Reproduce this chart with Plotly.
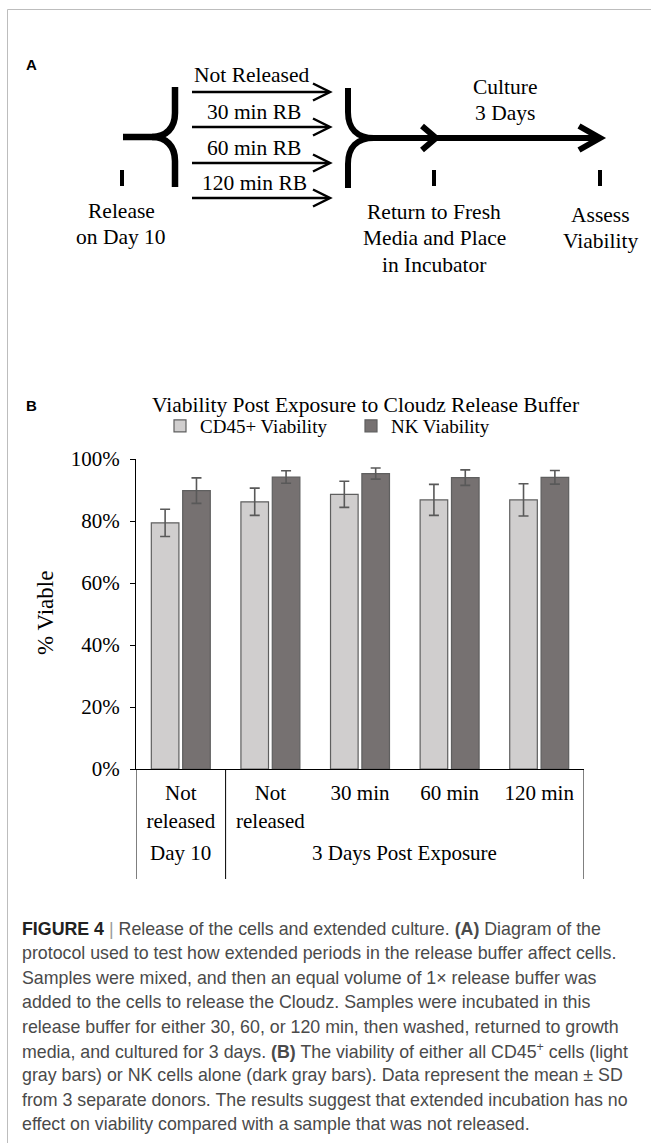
import plotly.graph_objects as go

W, H = 651, 1143

# ---------------- data (panel B) ----------------
outer_groups = ["Day 10", "3 Days Post Exposure", "3 Days Post Exposure",
                "3 Days Post Exposure", "3 Days Post Exposure"]
inner_labels = ["Not<br>released", "Not<br>released", "30 min", "60 min", "120 min"]
cd45_mean = [79.4, 86.2, 88.6, 86.8, 86.8]
cd45_sd = [4.4, 4.4, 4.2, 5.0, 5.2]
nk_mean = [89.8, 94.2, 95.3, 94.0, 94.1]
nk_sd = [4.1, 2.0, 1.8, 2.5, 2.2]
y_tick_vals = [0, 20, 40, 60, 80, 100]
y_tick_text = ["0%", "20%", "40%", "60%", "80%", "100%"]
series_names = ["CD45+ Viability", "NK Viability"]
chart_title = "Viability Post Exposure to Cloudz Release Buffer"
y_title = "% Viable"

# ---------------- text (panel A + caption) ----------------
branch_labels = ["Not Released", "30 min RB", "60 min RB", "120 min RB"]
step_labels = [["Release", "on Day 10"],
               ["Return to Fresh", "Media and Place", "in Incubator"],
               ["Assess", "Viability"]]
culture_label = ["Culture", "3 Days"]
caption_lines = [
    "<span style='color:#222'><b>FIGURE 4</b></span> <span style='color:#9a9a9a'>|</span> Release of the cells and extended culture. <b>(A)</b> Diagram of the",
    "protocol used to test how extended periods in the release buffer affect cells.",
    "Samples were mixed, and then an equal volume of 1× release buffer was",
    "added to the cells to release the Cloudz. Samples were incubated in this",
    "release buffer for either 30, 60, or 120 min, then washed, returned to growth",
    "media, and cultured for 3 days. <b>(B)</b> The viability of either all CD45<sup>+</sup> cells (light",
    "gray bars) or NK cells alone (dark gray bars). Data represent the mean ± SD",
    "from 3 separate donors. The results suggest that extended incubation has no",
    "effect on viability compared with a sample that was not released.",
]

SERIF = "Liberation Serif, Times New Roman, serif"
SANS = "Liberation Sans, Arial, sans-serif"
LIGHT = "#D0CECE"
DARK = "#767171"
EDGE = "#5f5f5f"


def px(x):
    return x / W


def py(y):
    return 1 - y / H


def P(x, y):
    return f"{px(x):.5f},{py(y):.5f}"


# unique category keys built from the two label levels
x_keys = [f"{o} | {i}" for o, i in zip(outer_groups, inner_labels)]

fig = go.Figure()
fig.add_trace(go.Bar(
    x=x_keys, y=cd45_mean, name=series_names[0],
    marker=dict(color=LIGHT, line=dict(color=EDGE, width=1.2)),
    error_y=dict(type="data", array=cd45_sd, color="#595959", thickness=1.6, width=5),
))
fig.add_trace(go.Bar(
    x=x_keys, y=nk_mean, name=series_names[1],
    marker=dict(color=DARK, line=dict(color=EDGE, width=1.2)),
    error_y=dict(type="data", array=nk_sd, color="#595959", thickness=1.6, width=5),
))

y0_px, y1_px = 769, 459
fig.update_layout(
    width=W, height=H,
    margin=dict(l=0, r=0, t=0, b=0),
    paper_bgcolor="white", plot_bgcolor="white",
    barmode="group", bargap=0.3, bargroupgap=0.12,
    font=dict(family=SERIF, size=21, color="black"),
    showlegend=True,
    legend=dict(orientation="h", x=px(160), xanchor="left", y=py(426), yanchor="middle",
                font=dict(family=SERIF, size=19, color="black"),
                entrywidth=146, entrywidthmode="pixels", bgcolor="rgba(0,0,0,0)",
                traceorder="normal"),
    xaxis=dict(type="category", domain=[px(136), px(584)], range=[-0.5, 4.5],
               tickvals=x_keys, ticktext=inner_labels,
               showline=True, linecolor="black", linewidth=1,
               ticks="", showgrid=False, automargin=False, ticklabelstandoff=5,
               tickfont=dict(family=SERIF, size=21, color="black")),
    yaxis=dict(domain=[py(y0_px), py(y1_px)], range=[0, 100],
               tickvals=y_tick_vals, ticktext=y_tick_text,
               ticks="outside", ticklen=5, tickcolor="black",
               showline=True, linecolor="black", linewidth=1, ticklabelstandoff=6,
               showgrid=False, zeroline=False, automargin=False,
               tickfont=dict(family=SERIF, size=21, color="black")),
)

ann = []
# outer (group) axis labels, centred on their categories
groups = []
for idx, g in enumerate(outer_groups):
    if groups and groups[-1][0] == g:
        groups[-1][2] = idx
    else:
        groups.append([g, idx, idx])
for g, i0, i1 in groups:
    ann.append(dict(text=g, x=(i0 + i1) / 2, xref="x", y=py(853), yref="paper",
                    xanchor="center", yanchor="middle", showarrow=False,
                    font=dict(family=SERIF, size=21, color="black")))

# chart title and y title
ann.append(dict(text=chart_title, x=px(365), y=py(405), xanchor="center", yanchor="middle",
                font=dict(family=SERIF, size=21.5, color="black")))
ann.append(dict(text=y_title, x=px(45), y=py(613), xanchor="center", yanchor="middle",
                textangle=-90, font=dict(family=SERIF, size=23, color="black")))
# panel letters
ann.append(dict(text="<b>A</b>", x=px(24), y=py(65), xanchor="left", yanchor="middle",
                font=dict(family=SANS, size=15, color="black")))
ann.append(dict(text="<b>B</b>", x=px(24), y=py(405), xanchor="left", yanchor="middle",
                font=dict(family=SANS, size=15, color="black")))

# diagram labels
branch_x = [251, 254, 254, 254]
branch_y = [75, 112, 148, 183]
for t, bx, by in zip(branch_labels, branch_x, branch_y):
    ann.append(dict(text=t, x=px(bx), y=py(by), xanchor="center", yanchor="middle",
                    font=dict(family=SERIF, size=21.5, color="black")))
for t, cy in zip(culture_label, [87, 113]):
    ann.append(dict(text=t, x=px(505), y=py(cy), xanchor="center", yanchor="middle",
                    font=dict(family=SERIF, size=21.5, color="black")))
step_x = [121, 434, 600]
step_y0 = [211, 212, 215]
for lines, sx, sy in zip(step_labels, step_x, step_y0):
    for i, t in enumerate(lines):
        ann.append(dict(text=t, x=px(sx), y=py(sy + 26.3 * i), xanchor="center", yanchor="middle",
                        font=dict(family=SERIF, size=21.5, color="black")))

# caption
for i, t in enumerate(caption_lines):
    ann.append(dict(text=t, x=px(20), y=py(929 + 24.4 * i), xanchor="left", yanchor="middle",
                    font=dict(family=SANS, size=17.8, color="#4a4a4a")))

for a in ann:
    a.setdefault("xref", "paper")
    a.setdefault("yref", "paper")
    a["showarrow"] = False
fig.update_layout(annotations=ann)

# ---------------- shapes: axis dividers, diagram, frame ----------------
shapes = []
# group dividers below the category axis
bounds = [groups[0][1] - 0.5] + [g[2] + 0.5 for g in groups]
for b in bounds:
    shapes.append(dict(type="line", xref="x", yref="paper", x0=b, x1=b,
                       y0=py(769), y1=py(879), line=dict(color="black", width=1)))
# frame
shapes.append(dict(type="line", xref="paper", yref="paper",
                   x0=px(7.5), x1=px(651), y0=py(9.5), y1=py(9.5),
                   line=dict(color="#bdbdbd", width=1)))
shapes.append(dict(type="line", xref="paper", yref="paper",
                   x0=px(7.5), x1=px(7.5), y0=py(9.5), y1=py(1143),
                   line=dict(color="#bdbdbd", width=1)))


def add_path(d, width, color="black"):
    shapes.append(dict(type="path", xref="paper", yref="paper", path=d,
                       line=dict(color=color, width=width),
                       fillcolor="rgba(0,0,0,0)"))


# left brace
add_path(f"M{P(123,137)} L{P(152,137)} C{P(166,137)} {P(175,128)} {P(175,113)} L{P(175,87)}", 6.5)
add_path(f"M{P(152,137)} C{P(166,137)} {P(175,146)} {P(175,161)} L{P(175,187)}", 6.5)
# right brace and main arrow
add_path(f"M{P(348,88)} L{P(348,112)} C{P(348,129)} {P(357,138)} {P(374,138)} L{P(598,138)}", 6)
add_path(f"M{P(348,188)} L{P(348,164)} C{P(348,147)} {P(357,138)} {P(374,138)}", 6)
add_path(f"M{P(422,126)} L{P(436,138)} L{P(422,150)}", 6)
add_path(f"M{P(579,126)} L{P(600,138)} L{P(579,150)}", 6)
# branch arrows
for by in [92, 127, 163, 198]:
    add_path(f"M{P(192,by)} L{P(329,by)}", 2.5)
    add_path(f"M{P(313,by-8.5)} L{P(330,by)} L{P(313,by+8.5)}", 2.5)
# timeline ticks
for tx in [122, 434, 600]:
    add_path(f"M{P(tx,170)} L{P(tx,186)}", 4)

fig.update_layout(shapes=shapes)

fig.write_html("out.html", config={"displayModeBar": False},
               post_script="document.body.style.margin='0px';document.body.style.overflow='hidden';")
